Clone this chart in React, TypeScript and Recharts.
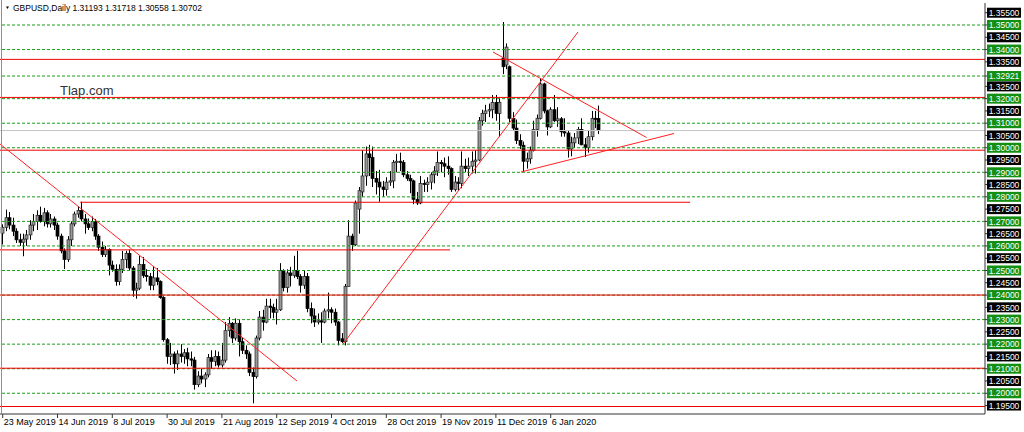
import React from 'react'
import { ComposedChart, Bar, XAxis, YAxis, ReferenceLine } from 'recharts'

// GBPUSD daily, [open, high, low, close], first bar = 23 May 2019
const candles: number[][] = [
  // May 2019
  [1.2652, 1.2688, 1.2606, 1.2676], [1.2676, 1.2748, 1.2660, 1.2715], [1.2715, 1.2738, 1.2668, 1.2685],
  [1.2685, 1.2715, 1.2640, 1.2660], [1.2660, 1.2672, 1.2612, 1.2625], [1.2625, 1.2650, 1.2600, 1.2615],
  [1.2615, 1.2650, 1.2558, 1.2628],
  // Jun 2019
  [1.2628, 1.2665, 1.2600, 1.2645], [1.2645, 1.2705, 1.2625, 1.2685], [1.2685, 1.2730, 1.2660, 1.2700],
  [1.2700, 1.2745, 1.2665, 1.2725], [1.2725, 1.2760, 1.2695, 1.2700], [1.2700, 1.2755, 1.2680, 1.2735],
  [1.2735, 1.2745, 1.2675, 1.2690], [1.2690, 1.2730, 1.2675, 1.2710], [1.2710, 1.2720, 1.2665, 1.2685],
  [1.2685, 1.2695, 1.2625, 1.2640], [1.2640, 1.2650, 1.2570, 1.2580], [1.2580, 1.2590, 1.2506, 1.2545],
  [1.2545, 1.2640, 1.2535, 1.2625], [1.2625, 1.2700, 1.2600, 1.2690], [1.2690, 1.2740, 1.2680, 1.2730],
  [1.2730, 1.2760, 1.2715, 1.2745], [1.2745, 1.2780, 1.2700, 1.2710], [1.2710, 1.2730, 1.2650, 1.2690],
  [1.2690, 1.2712, 1.2665, 1.2675], [1.2675, 1.2720, 1.2660, 1.2700],
  // Jul 2019
  [1.2700, 1.2710, 1.2625, 1.2640], [1.2640, 1.2648, 1.2580, 1.2595], [1.2595, 1.2618, 1.2555, 1.2565],
  [1.2565, 1.2600, 1.2555, 1.2585], [1.2585, 1.2590, 1.2480, 1.2522], [1.2522, 1.2540, 1.2495, 1.2505],
  [1.2505, 1.2525, 1.2438, 1.2455], [1.2455, 1.2525, 1.2440, 1.2505], [1.2505, 1.2580, 1.2490, 1.2545],
  [1.2545, 1.2580, 1.2510, 1.2570], [1.2570, 1.2585, 1.2500, 1.2510], [1.2510, 1.2518, 1.2393, 1.2420],
  [1.2420, 1.2450, 1.2385, 1.2428], [1.2428, 1.2560, 1.2420, 1.2525], [1.2525, 1.2555, 1.2470, 1.2480],
  [1.2480, 1.2505, 1.2455, 1.2475], [1.2475, 1.2490, 1.2420, 1.2440], [1.2440, 1.2518, 1.2420, 1.2470],
  [1.2470, 1.2510, 1.2440, 1.2455], [1.2455, 1.2460, 1.2385, 1.2390], [1.2390, 1.2395, 1.2210, 1.2218],
  [1.2218, 1.2225, 1.2120, 1.2150], [1.2150, 1.2205, 1.2115, 1.2160],
  // Aug 2019
  [1.2160, 1.2170, 1.2080, 1.2120], [1.2120, 1.2175, 1.2095, 1.2160], [1.2160, 1.2200, 1.2125, 1.2150],
  [1.2150, 1.2180, 1.2120, 1.2165], [1.2165, 1.2185, 1.2110, 1.2140], [1.2140, 1.2170, 1.2110, 1.2135],
  [1.2135, 1.2148, 1.2015, 1.2035], [1.2035, 1.2090, 1.2025, 1.2070], [1.2070, 1.2100, 1.2040, 1.2058],
  [1.2058, 1.2085, 1.2025, 1.2075], [1.2075, 1.2160, 1.2065, 1.2145], [1.2145, 1.2175, 1.2100, 1.2130],
  [1.2130, 1.2175, 1.2110, 1.2150], [1.2150, 1.2170, 1.2105, 1.2115], [1.2115, 1.2205, 1.2105, 1.2135],
  [1.2135, 1.2290, 1.2125, 1.2255], [1.2255, 1.2310, 1.2230, 1.2285], [1.2285, 1.2290, 1.2205, 1.2225],
  [1.2225, 1.2305, 1.2215, 1.2285], [1.2285, 1.2300, 1.2150, 1.2210], [1.2210, 1.2225, 1.2160, 1.2175],
  [1.2175, 1.2195, 1.2140, 1.2160],
  // Sep 2019
  [1.2160, 1.2170, 1.2070, 1.2085], [1.2085, 1.2105, 1.1959, 1.2068], [1.2068, 1.2235, 1.2060, 1.2225],
  [1.2225, 1.2335, 1.2215, 1.2310], [1.2310, 1.2340, 1.2255, 1.2290], [1.2290, 1.2385, 1.2285, 1.2355],
  [1.2355, 1.2385, 1.2305, 1.2350], [1.2350, 1.2365, 1.2305, 1.2330], [1.2330, 1.2385, 1.2280, 1.2340],
  [1.2340, 1.2530, 1.2335, 1.2500], [1.2500, 1.2505, 1.2415, 1.2430], [1.2430, 1.2505, 1.2410, 1.2490],
  [1.2490, 1.2515, 1.2435, 1.2480], [1.2480, 1.2560, 1.2470, 1.2500], [1.2500, 1.2580, 1.2465, 1.2475],
  [1.2475, 1.2485, 1.2410, 1.2440], [1.2440, 1.2500, 1.2425, 1.2475], [1.2475, 1.2490, 1.2330, 1.2345],
  [1.2345, 1.2370, 1.2285, 1.2315], [1.2315, 1.2345, 1.2270, 1.2290], [1.2290, 1.2325, 1.2280, 1.2295],
  // Oct 2019
  [1.2295, 1.2330, 1.2205, 1.2290], [1.2290, 1.2345, 1.2285, 1.2335], [1.2335, 1.2410, 1.2305, 1.2340],
  [1.2340, 1.2350, 1.2285, 1.2330], [1.2330, 1.2345, 1.2275, 1.2290], [1.2290, 1.2295, 1.2195, 1.2215],
  [1.2222, 1.2245, 1.2205, 1.2210], [1.2210, 1.2445, 1.2195, 1.2435], [1.2435, 1.2705, 1.2435, 1.2640],
  [1.2640, 1.2650, 1.2580, 1.2605], [1.2605, 1.2785, 1.2600, 1.2775], [1.2750, 1.2840, 1.2650, 1.2825],
  [1.2820, 1.2990, 1.2800, 1.2885], [1.2885, 1.3005, 1.2845, 1.2975], [1.2975, 1.3012, 1.2885, 1.2960],
  [1.2960, 1.3005, 1.2840, 1.2875], [1.2875, 1.2905, 1.2810, 1.2860], [1.2860, 1.2910, 1.2780, 1.2840],
  [1.2840, 1.2865, 1.2800, 1.2830], [1.2830, 1.2880, 1.2805, 1.2860], [1.2860, 1.2905, 1.2845, 1.2865],
  [1.2865, 1.2950, 1.2835, 1.2940], [1.2940, 1.2975, 1.2900, 1.2945],
  // Nov 2019
  [1.2945, 1.2980, 1.2905, 1.2940], [1.2940, 1.2950, 1.2880, 1.2890], [1.2890, 1.2905, 1.2865, 1.2875],
  [1.2875, 1.2890, 1.2815, 1.2865], [1.2865, 1.2870, 1.2770, 1.2790], [1.2790, 1.2820, 1.2767, 1.2775],
  [1.2775, 1.2885, 1.2770, 1.2855], [1.2855, 1.2870, 1.2820, 1.2850], [1.2850, 1.2880, 1.2820, 1.2860],
  [1.2860, 1.2900, 1.2830, 1.2890], [1.2890, 1.2925, 1.2855, 1.2905], [1.2905, 1.2985, 1.2885, 1.2940],
  [1.2940, 1.2950, 1.2900, 1.2935], [1.2935, 1.2960, 1.2880, 1.2925], [1.2925, 1.2965, 1.2890, 1.2915],
  [1.2915, 1.2920, 1.2820, 1.2830], [1.2830, 1.2885, 1.2822, 1.2860], [1.2860, 1.2880, 1.2825, 1.2855],
  [1.2855, 1.2985, 1.2835, 1.2925], [1.2925, 1.2955, 1.2900, 1.2915], [1.2915, 1.2960, 1.2885, 1.2925],
  // Dec 2019
  [1.2925, 1.2985, 1.2895, 1.2945], [1.2945, 1.2990, 1.2895, 1.2950], [1.2950, 1.3125, 1.2945, 1.3110],
  [1.3110, 1.3155, 1.3090, 1.3140], [1.3140, 1.3175, 1.3105, 1.3150], [1.3150, 1.3180, 1.3125, 1.3155],
  [1.3155, 1.3215, 1.3120, 1.3185], [1.3185, 1.3215, 1.3110, 1.3140], [1.3140, 1.3205, 1.3045, 1.3185],
  [1.3365, 1.3512, 1.3300, 1.3330], [1.3337, 1.3425, 1.3320, 1.3410], [1.3330, 1.3335, 1.3105, 1.3120],
  [1.3120, 1.3145, 1.3070, 1.3080], [1.3080, 1.3115, 1.3015, 1.3030], [1.3030, 1.3055, 1.2995, 1.3010],
  [1.3010, 1.3025, 1.2902, 1.2945], [1.2945, 1.2980, 1.2915, 1.2955], [1.2955, 1.3005, 1.2935, 1.2990],
  [1.2990, 1.3110, 1.2985, 1.3075], [1.3075, 1.3135, 1.3045, 1.3120], [1.3120, 1.3280, 1.3115, 1.3260],
  // Jan 2020
  [1.3260, 1.3265, 1.3140, 1.3150], [1.3150, 1.3155, 1.3050, 1.3085], [1.3085, 1.3165, 1.3080, 1.3155],
  [1.3155, 1.3215, 1.3105, 1.3110], [1.3110, 1.3165, 1.3085, 1.3118], [1.3118, 1.3125, 1.3045, 1.3065],
  [1.3065, 1.3120, 1.3045, 1.3060], [1.3060, 1.3070, 1.2960, 1.2995], [1.2995, 1.3045, 1.2965, 1.3020],
  [1.3020, 1.3060, 1.3000, 1.3040], [1.3040, 1.3085, 1.3015, 1.3075], [1.3075, 1.3120, 1.3010, 1.3012],
  [1.3012, 1.3040, 1.2962, 1.3000], [1.3000, 1.3070, 1.2980, 1.3045], [1.3045, 1.3150, 1.3030, 1.3120],
  [1.3120, 1.3150, 1.3080, 1.3119], [1.31193, 1.31718, 1.30558, 1.30702],
]

// bar index of each date label on the time scale
const dateTicks = [0, 16, 32, 48, 64, 80, 96, 112, 128, 144, 160]
const dateLabels = ['23 May 2019', '14 Jun 2019', '8 Jul 2019', '30 Jul 2019', '21 Aug 2019', '12 Sep 2019',
  '4 Oct 2019', '28 Oct 2019', '19 Nov 2019', '11 Dec 2019', '6 Jan 2020']

const priceTicks = [1.355, 1.345, 1.335, 1.325, 1.315, 1.305, 1.295, 1.285, 1.275, 1.265, 1.255, 1.245,
  1.235, 1.225, 1.215, 1.205, 1.195]
const levelTicks = [1.35, 1.34, 1.32921, 1.32, 1.31, 1.30, 1.29, 1.28, 1.27, 1.26, 1.25, 1.24, 1.23,
  1.22, 1.21, 1.20]

const redLevels = [1.3360, 1.3205, 1.2990, 1.2400, 1.2102, 1.1946]
// [from bar, to bar, price]
const redSegments = [[22.6, 200.7, 1.2778], [-0.78, 130.6, 1.2584]]
// [bar1, price1, bar2, price2]
const trendLines = [
  [-0.78, 1.30153, 85.93, 1.20499],
  [99.36, 1.22006, 167.97, 1.34715],
  [143.15, 1.3390, 187.97, 1.30418],
  [151.33, 1.29012, 196.0, 1.3058],
]
const lastPrice = 1.30702
const header = 'GBPUSD,Daily  1.31193 1.31718 1.30558 1.30702'

const X_DOMAIN = [-0.788, 286.8]
const Y_DOMAIN = [1.19155, 1.35896]
const FONT = '"Liberation Sans", Arial, sans-serif'

const rows = candles.map(([o, h, l, c], i) => ({ i, o, h, l, c, range: [l, h] }))

function Candle(props: any) {
  const { x, y, width, height, payload } = props
  if (!payload) return null
  const { o, h, l, c } = payload
  const top = Math.min(y, y + height)
  const span = Math.abs(height)
  const py = (p: number) => top + ((h - p) / (h - l)) * span
  const cx = Math.round(x + width / 2) + 0.5
  const bTop = Math.min(py(o), py(c))
  const bH = Math.max(1, Math.abs(py(o) - py(c)))
  const bull = c >= o
  return (
    <g>
      <line x1={cx} x2={cx} y1={top} y2={top + span} stroke="#000" strokeWidth={1} />
      <rect x={cx - 1.5} y={bTop} width={3} height={bH}
        fill={bull ? '#999' : '#000'} stroke={bull ? '#222' : '#000'} strokeWidth={0.7} />
    </g>
  )
}

function PriceTick(props: any) {
  const { y, payload } = props
  const v = payload.value as number
  const green = levelTicks.includes(v)
  return (
    <g>
      <line x1={985} x2={988} y1={y} y2={y} stroke="#333" />
      <rect x={987} y={y - 5} width={34} height={10} fill={green ? '#138f13' : '#000'} />
      <text x={1004} y={y + 3.2} textAnchor="middle" fontSize={8.5} fill="#fff" fontFamily={FONT}>
        {v.toFixed(5)}
      </text>
    </g>
  )
}

function DateTick(props: any) {
  const { x, payload } = props
  const k = dateTicks.indexOf(payload.value)
  return (
    <g>
      <line x1={x} x2={x} y1={414} y2={418} stroke="#333" />
      <text x={x + 1} y={425} fontSize={9} fill="#000" fontFamily={FONT}>{dateLabels[k]}</text>
    </g>
  )
}

export default function App() {
  return (
    <div style={{ position: 'relative', width: 1024, height: 432, background: '#fff' }}>
      <style>{'body{margin:0}'}</style>
      <ComposedChart width={1024} height={432} data={rows} margin={{ top: 3, right: 0, bottom: 0, left: 0 }}>
        <XAxis dataKey="i" type="number" domain={X_DOMAIN} allowDataOverflow ticks={dateTicks} interval={0}
          tick={<DateTick />} tickLine={false} axisLine={{ stroke: '#333' }} height={18} />
        <YAxis orientation="right" type="number" domain={Y_DOMAIN} allowDataOverflow width={39}
          ticks={[...priceTicks, ...levelTicks]} interval={0} tick={<PriceTick />} tickLine={false}
          axisLine={{ stroke: '#333' }} />
        {levelTicks.map(v => (
          <ReferenceLine key={'g' + v} y={v} stroke="#1a9e1a" strokeDasharray="3 2" />
        ))}
        <ReferenceLine y={lastPrice} stroke="#c4c4c4" />
        {redLevels.map(v => (
          <ReferenceLine key={'r' + v} y={v} stroke="#f00000" />
        ))}
        {redSegments.map(([a, b, p]) => (
          <ReferenceLine key={'s' + a} segment={[{ x: a, y: p }, { x: b, y: p }]} stroke="#f00000" ifOverflow="visible" />
        ))}
        <Bar dataKey="range" barSize={3} shape={<Candle />} isAnimationActive={false} />
        {trendLines.map(([a, p, b, q]) => (
          <ReferenceLine key={'t' + a} segment={[{ x: a, y: p }, { x: b, y: q }]} stroke="#ff2020" ifOverflow="visible" />
        ))}
      </ComposedChart>
      <svg width={1024} height={432} style={{ position: 'absolute', left: 0, top: 0, pointerEvents: 'none' }}>
        <line x1={1.5} x2={1.5} y1={0} y2={414} stroke="#909090" />
        <path d="M6 6.5 L9 6.5 L7.5 9 Z" fill="#000" />
        <text x={13} y={11} fontSize={8.5} fill="#000" fontFamily={FONT}>{header}</text>
        <text x={60} y={95} fontSize={13} fill="#333" fontFamily={FONT}>Tlap.com</text>
      </svg>
    </div>
  )
}
